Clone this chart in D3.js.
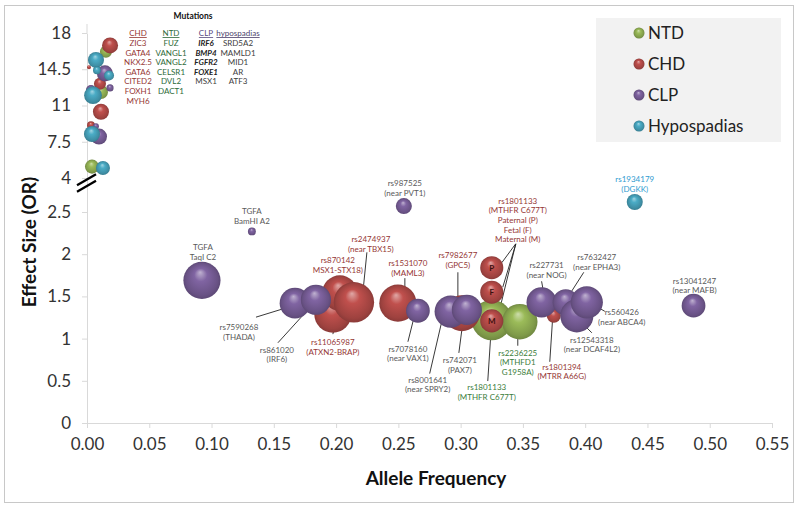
<!DOCTYPE html>
<html><head><meta charset="utf-8">
<script src="https://cdn.jsdelivr.net/npm/d3@7"></script>
<style>
body{margin:0;background:#fff}
svg{display:block}
text{font-family:Lato,"Open Sans",sans-serif}
</style>
</head><body><svg id="c" width="800" height="508"></svg>
<script>
// ---------------- data ----------------
const seriesNames = ["NTD", "CHD", "CLP", "Hypospadias"];
const seriesColors = ["#9bbb59", "#c0504d", "#8064a2", "#4bacc6"];
const labelColors = ["#3b7d3b", "#953735", "#595959", "#2f9bd0"];

const ntdFreq = [0.0152, 0.0112, 0.0056, 0.0040, 0.3250, 0.3475];
const ntdOR   = [16.2, 12.3, 8.8, 5.1, 1.22, 1.20];
const ntdSize = [4.6, 6.3, 2.0, 6.3, 52, 40];

const chdFreq = [0.0185, 0.0016, 0.0104, 0.0112, 0.0032, 0.1974, 0.2030, 0.2143, 0.2496, 0.3010, 0.3250, 0.3250, 0.3250, 0.3748];
const chdOR   = [16.8, 14.7, 13.1, 10.4, 9.1, 1.29, 1.54, 1.43, 1.42, 1.30, 1.84, 1.55, 1.21, 1.27];
const chdSize = [8.2, 0.5, 4.6, 8.2, 2.0, 44, 40, 52, 44, 41, 17, 17, 17, 6.3];
const chdMark = ["", "", "", "", "", "", "", "", "", "", "P", "F", "M", ""];

const clpFreq = [0.0144, 0.0185, 0.0032, 0.0072, 0.0096, 0.0923, 0.1324, 0.1670, 0.1838, 0.2544, 0.2657, 0.2920, 0.3050, 0.3650, 0.3844, 0.3933, 0.4013, 0.4870];
const clpOR   = [14.1, 12.7, 12.5, 9.0, 8.0, 1.69, 2.27, 1.42, 1.46, 2.76, 1.33, 1.32, 1.34, 1.43, 1.43, 1.27, 1.43, 1.39];
const clpSize = [8.2, 1.6, 3.2, 1.1, 8.2, 44, 2.0, 30, 29, 8.2, 18, 33, 29, 29, 22, 35, 33, 18];

const hypFreq = [0.0072, 0.0080, 0.0177, 0.0048, 0.0040, 0.0128, 0.4398];
const hypOR   = [15.4, 14.4, 13.9, 12.0, 8.25, 4.97, 2.94];
const hypSize = [8.2, 2.0, 3.2, 10, 8.2, 6.3, 8.2];

const xTicks = [0, 0.05, 0.10, 0.15, 0.20, 0.25, 0.30, 0.35, 0.40, 0.45, 0.50, 0.55];
const yTicks = [0, 0.5, 1, 1.5, 2, 2.5, 4, 7.5, 11, 14.5, 18];

const mutTitle = "Mutations";
const mutHeaders = ["CHD", "NTD", "CLP", "hypospadias"];
const mutCHD  = ["ZIC3", "GATA4", "NKX2.5", "GATA6", "CITED2", "FOXH1", "MYH6"];
const mutNTD  = ["FUZ", "VANGL1", "VANGL2", "CELSR1", "DVL2", "DACT1"];
const mutCLP  = ["IRF6", "BMP4", "FGFR2", "FOXE1", "MSX1"];
const mutCLPbold = [true, true, true, true, false];
const mutHypo = ["SRD5A2", "MAMLD1", "MID1", "AR", "ATF3"];

// annotation layout (series, point, text lines, pixel offset of label, leader offsets)
const annotations = [
  {s:2, i:6,  lines:["TGFA","BamHI A2"], dx:0, dy:-20},
  {s:2, i:5,  lines:["TGFA","TaqI C2"], dx:1, dy:-33},
  {s:2, i:7,  lines:["rs7590268","(THADA)"], dx:-56, dy:24, lead:[-39,14,-13,6]},
  {s:2, i:8,  lines:["rs861020","(IRF6)"], dx:-39, dy:50, lead:[-38,43,-8,10]},
  {s:2, i:9,  lines:["rs987525","(near PVT1)"], dx:1, dy:-23},
  {s:1, i:7,  lines:["rs2474937","(near TBX15)"], dx:17, dy:-63, lead:[13,-50,9,-10]},
  {s:1, i:6,  lines:["rs870142","MSX1-STX18)"], dx:-2, dy:-33, lead:[-2,-17,3,-10]},
  {s:1, i:5,  lines:["rs11065987","(ATXN2-BRAP)"], dx:0, dy:28, lead:[2,13,0,20]},
  {s:1, i:8,  lines:["rs1531070","(MAML3)"], dx:10, dy:-40, lead:[7,-25,7,-11]},
  {s:2, i:10, lines:["rs7078160","(near VAX1)"], dx:-10, dy:38, lead:[-10,31,-4,7]},
  {s:1, i:9,  lines:["rs7982677","(GPC5)"], dx:-4, dy:-58, lead:[-4,-41,-4,-17]},
  {s:2, i:12, lines:["rs742071","(PAX7)"], dx:-7, dy:50, lead:[-8,43,-4,12]},
  {s:2, i:11, lines:["rs8001641","(near SPRY2)"], dx:-23, dy:68, lead:[-21,62,-8,6]},
  {s:1, i:10, lines:["rs1801133","(MTHFR C677T)","Paternal (P)","Fetal (F)","Maternal (M)"], dx:26, dy:-67, lead:[24,-24,10,-5]},
  {s:1, i:11, lines:[], dx:0, dy:0, lead:[24,-48,11,-5]},
  {s:1, i:12, lines:[], dx:0, dy:0, lead:[24,-77,7,-8]},
  {s:0, i:5,  lines:["rs2236225","(MTHFD1","G1958A)"], dx:-2, dy:31, lead:[-2,24,-2,17]},
  {s:0, i:4,  lines:["rs1801133","(MTHFR C677T)"], dx:-5, dy:67, lead:[-4,61,-1,15]},
  {s:2, i:13, lines:["rs227731","(near NOG)"], dx:5, dy:-37, lead:[0,-21,2,-10]},
  {s:2, i:14, lines:["rs7632427","(near EPHA3)"], dx:31, dy:-45, lead:[18,-30,2,-5]},
  {s:2, i:16, lines:["rs560426","(near ABCA4)"], dx:35, dy:10, lead:[18,9,11,5]},
  {s:2, i:15, lines:["rs12543318","(near DCAF4L2)"], dx:15, dy:24, lead:[15,17,8,10]},
  {s:1, i:13, lines:["rs1801394","(MTRR A66G)"], dx:8, dy:51, lead:[-4,46,-1,0]},
  {s:2, i:17, lines:["rs13041247","(near MAFB)"], dx:1, dy:-25},
  {s:3, i:6,  lines:["rs1934179","(DGKK)"], dx:0, dy:-23}
];

// ---------------- build ----------------
const seriesData = [
  d3.zip(ntdFreq, ntdOR, ntdSize),
  d3.zip(chdFreq, chdOR, chdSize),
  d3.zip(clpFreq, clpOR, clpSize),
  d3.zip(hypFreq, hypOR, hypSize)
];

const svg = d3.select("#c");
const x = d3.scaleLinear().domain([0, 0.55]).range([87, 772]);
const y = d3.scaleLinear().domain([0, 2.5, 4, 18]).range([423, 212, 178, 33]);
const r = d3.scaleSqrt().domain([0, 100]).range([0, 28]);

// outer border
svg.append("rect").attr("x", 4.5).attr("y", 5.5).attr("width", 789).attr("height", 497)
  .attr("fill", "#fff").attr("stroke", "#c8c8c8");

// gradients
const defs = svg.append("defs");
seriesColors.forEach((c, k) => {
  const g = defs.append("radialGradient").attr("id", "g" + k)
    .attr("cx", 0.5).attr("cy", 0.5).attr("r", 0.5).attr("fx", 0.45).attr("fy", 0.28);
  g.append("stop").attr("offset", "0%").attr("stop-color", d3.interpolateRgb(c, "#fff")(0.5));
  g.append("stop").attr("offset", "35%").attr("stop-color", c);
  g.append("stop").attr("offset", "85%").attr("stop-color", d3.color(c).darker(0.55));
  g.append("stop").attr("offset", "100%").attr("stop-color", d3.color(c).darker(0.9));
});

// axes
const yAxis = svg.append("g").attr("transform", "translate(87,0)")
  .call(d3.axisLeft(y).tickValues(yTicks).tickSize(5).tickSizeOuter(0).tickPadding(11).tickFormat(d => String(d)));
const xAxis = svg.append("g").attr("transform", "translate(0,423)")
  .call(d3.axisBottom(x).tickValues(xTicks).tickSize(5).tickSizeOuter(0).tickPadding(10).tickFormat(d3.format(".2f")));
[yAxis, xAxis].forEach(a => {
  a.select(".domain").attr("stroke", "#d9d9d9");
  a.selectAll(".tick line").attr("stroke", "#d9d9d9");
  a.selectAll(".tick text").attr("fill", "#333").style("font-size", "17px").style("font-family", "Lato");
});
svg.append("line").attr("x1", 87).attr("x2", 87).attr("y1", y(18) - 9).attr("y2", y(18)).attr("stroke", "#d9d9d9");

// axis break marks
const by = y(3.8);
[-2, 2].forEach(o => {
  svg.append("line").attr("x1", 77).attr("y1", by + 6 + o * 1.6).attr("x2", 96).attr("y2", by - 5 + o * 1.6)
    .attr("stroke", "#000").attr("stroke-width", 2.3);
});

// axis titles
svg.append("text").attr("transform", "translate(36,242) rotate(-90)").attr("text-anchor", "middle")
  .style("font-size", "19px").style("font-weight", "bold").attr("fill", "#111").text("Effect Size (OR)");
svg.append("text").attr("x", 436).attr("y", 485).attr("text-anchor", "middle")
  .style("font-size", "19px").style("font-weight", "bold").attr("fill", "#111").text("Allele Frequency");

// leader lines
const lg = svg.append("g");
annotations.forEach(a => {
  if (!a.lead) return;
  const p = seriesData[a.s][a.i];
  const cx = x(p[0]), cy = y(p[1]);
  lg.append("line").attr("x1", cx + a.lead[0]).attr("y1", cy + a.lead[1])
    .attr("x2", cx + a.lead[2]).attr("y2", cy + a.lead[3])
    .attr("stroke", "#222").attr("stroke-width", 0.9);
});

// bubbles
seriesData.forEach((data, k) => {
  svg.append("g").selectAll("circle").data(data).join("circle")
    .attr("cx", d => x(d[0])).attr("cy", d => y(d[1])).attr("r", d => r(d[2]))
    .attr("fill", `url(#g${k})`);
});

// P/F/M marks
svg.append("g").selectAll("text").data(d3.zip(chdFreq, chdOR, chdMark).filter(d => d[2]))
  .join("text").attr("x", d => x(d[0])).attr("y", d => y(d[1]) + 3).attr("text-anchor", "middle")
  .style("font-size", "8px").style("font-weight", "bold").attr("fill", "#3a1010").text(d => d[2]);

// labels
const tg = svg.append("g");
annotations.forEach(a => {
  const p = seriesData[a.s][a.i];
  const cx = x(p[0]), cy = y(p[1]);
  a.lines.forEach((t, j) => {
    tg.append("text").attr("x", cx + a.dx).attr("y", cy + a.dy + 3 + j * 9.6)
      .attr("text-anchor", "middle").style("font-size", "8px").attr("fill", labelColors[a.s]).text(t);
  });
});

// mutations table
const mt = svg.append("g");
mt.append("text").attr("x", 193).attr("y", 19).attr("text-anchor", "middle")
  .style("font-size", "8.5px").style("font-weight", "bold").attr("fill", "#111").text(mutTitle);
const colX = [138, 171, 206, 238];
const headCol = ["#953735", "#2e6b3a", "#5b4a80", "#4b3f6b"];
const itemCol = ["#953735", "#2e6b3a", "#222", "#404040"];
const cols = [mutCHD, mutNTD, mutCLP, mutHypo];
mutHeaders.forEach((h, k) => {
  mt.append("text").attr("x", colX[k]).attr("y", 36).attr("text-anchor", "middle")
    .style("font-size", "8px").style("text-decoration", "underline").attr("fill", headCol[k]).text(h);
  cols[k].forEach((t, j) => {
    const bold = k === 2 && mutCLPbold[j];
    mt.append("text").attr("x", colX[k]).attr("y", 46 + j * 9.6).attr("text-anchor", "middle")
      .style("font-size", "8px")
      .style("font-weight", bold ? "bold" : "normal")
      .style("font-style", bold ? "italic" : "normal")
      .attr("fill", k === 2 && !bold ? "#404040" : itemCol[k]).text(t);
  });
});

// legend
const leg = svg.append("g");
leg.append("rect").attr("x", 596).attr("y", 18).attr("width", 185).attr("height", 124).attr("fill", "#f2f2f2");
seriesNames.forEach((n, k) => {
  const yy = 33 + k * 31;
  leg.append("circle").attr("cx", 639).attr("cy", yy).attr("r", 5.5).attr("fill", `url(#g${k})`);
  leg.append("text").attr("x", 648).attr("y", yy + 6).style("font-size", "17px").attr("fill", "#222").text(n);
});
</script></body></html>
